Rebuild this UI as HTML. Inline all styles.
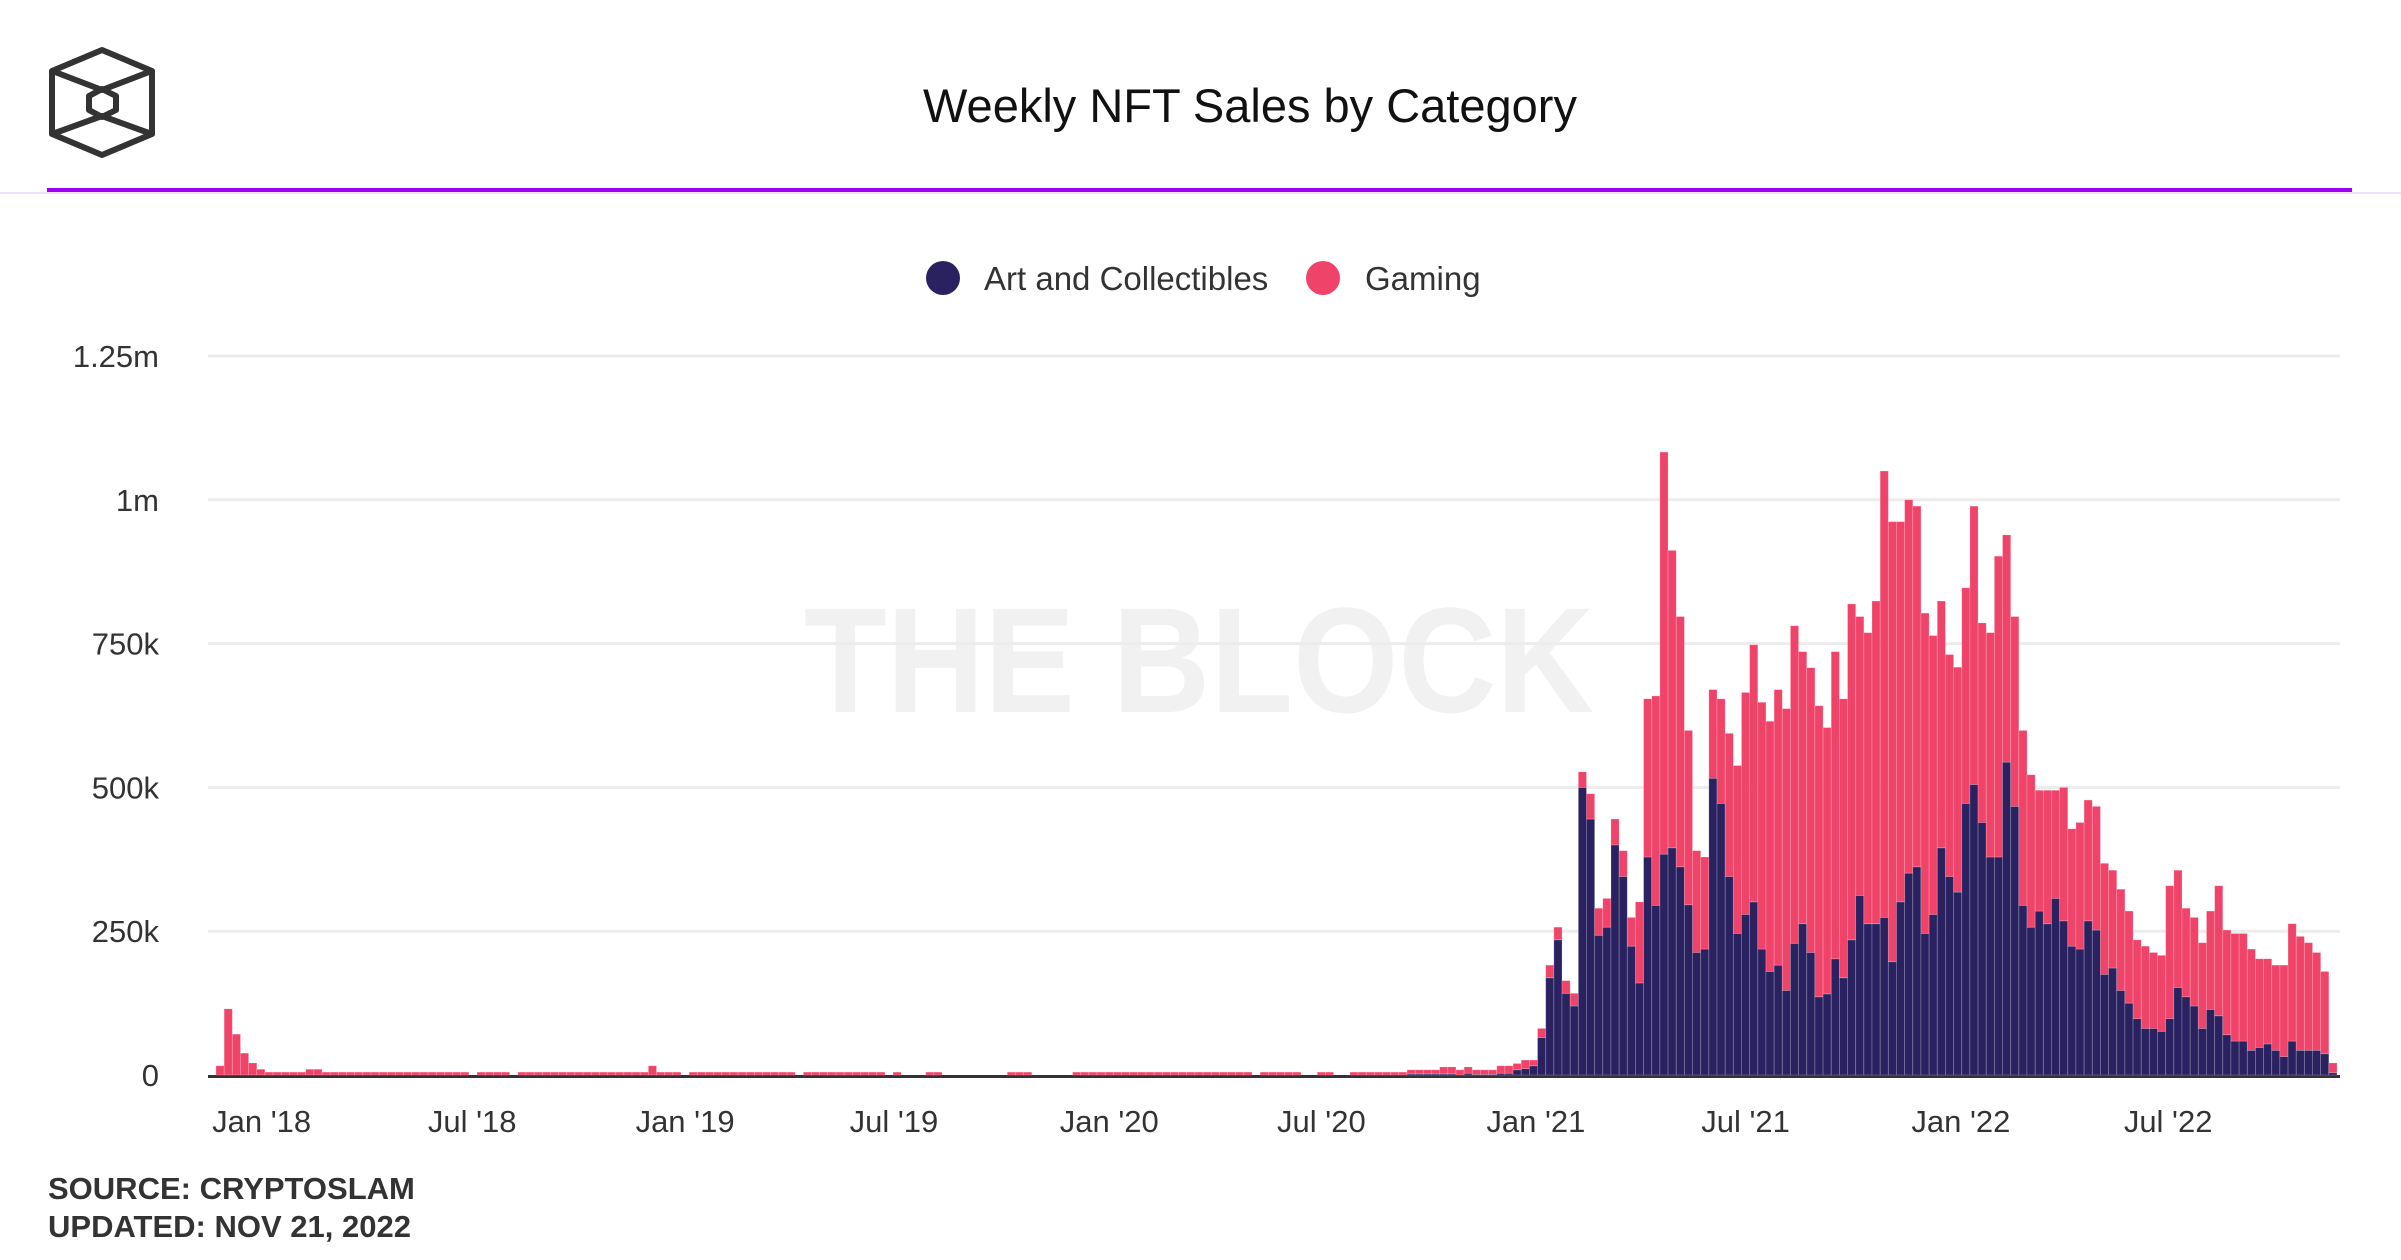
<!DOCTYPE html>
<html><head><meta charset="utf-8"><title>Weekly NFT Sales by Category</title>
<style>html,body{margin:0;padding:0;background:#fff;}svg{display:block;}</style></head>
<body>
<svg id="chart" width="2401" height="1260" viewBox="0 0 2401 1260" xmlns="http://www.w3.org/2000/svg" font-family="Liberation Sans, sans-serif">
<rect x="0" y="0" width="2401" height="1260" fill="#fff"/>
<g fill="none" stroke="#333" stroke-width="6" stroke-linejoin="round">
<polygon points="102,50 152,71 152,134 102,155 52,134 52,71"/>
<polyline points="55,72 102,90 149,72"/>
<polyline points="55,133 102,116 149,133"/>
<polygon points="102,89 116,96 116,110 102,117 89,110 89,96"/>
</g>
<text x="1250" y="122" text-anchor="middle" font-size="47" fill="#111">Weekly NFT Sales by Category</text>
<line x1="0" y1="193" x2="2401" y2="193" stroke="#f0e0f8" stroke-width="2"/>
<line x1="47" y1="190" x2="2352" y2="190" stroke="#a000f2" stroke-width="4"/>
<text x="1199" y="712" text-anchor="middle" font-size="150" font-weight="bold" fill="#f1f1f1" textLength="790" lengthAdjust="spacingAndGlyphs">THE BLOCK</text>
<g>
<circle cx="943" cy="278" r="17" fill="#2a2260"/>
<text x="984" y="290" font-size="33" fill="#333">Art and Collectibles</text>
<circle cx="1323" cy="278" r="17" fill="#f0436a"/>
<text x="1365" y="290" font-size="33" fill="#333">Gaming</text>
</g>
<g id="grid"></g>
<g id="yaxis"></g>
<line x1="208" y1="1076.5" x2="2340" y2="1076.5" stroke="#333" stroke-width="3"/>
<g id="bars"></g>
<g id="xaxis"></g>
<text x="48" y="1199" font-size="31" font-weight="bold" fill="#333">SOURCE: CRYPTOSLAM</text>
<text x="48" y="1237" font-size="31" font-weight="bold" fill="#333">UPDATED: NOV 21, 2022</text>
</svg>
<script>
const yTicks = [0, 250000, 500000, 750000, 1000000, 1250000];
const yTickLabels = ["0", "250k", "500k", "750k", "1m", "1.25m"];
const xTickLabels = ["Jan '18","Jul '18","Jan '19","Jul '19","Jan '20","Jul '20","Jan '21","Jul '21","Jan '22","Jul '22"];
const xTickWeeks = [5.6, 31.4, 57.5, 83.1, 109.5, 135.5, 161.8, 187.5, 213.9, 239.3];
// values in thousands
const art = [
0,0,0,0,0,0,0,0,0,0, 0,0,0,0,0,0,0,0,0,0,
0,0,0,0,0,0,0,0,0,0, 0,0,0,0,0,0,0,0,0,0,
0,0,0,0,0,0,0,0,0,0, 0,0,0,0,0,0,0,0,0,0,
0,0,0,0,0,0,0,0,0,0, 0,0,0,0,0,0,0,0,0,0,
0,0,0,0,0,0,0,0,0,0, 0,0,0,0,0,0,0,0,0,0,
0,0,0,0,0,0,0,0,0,0, 0,0,0,0,0,0,0,0,0,0,
0,0,0,0,0,0,0,0,0,0, 0,0,0,0,0,0,0,0,0,0,
0,0,0,0,0,0,2,2,2,2, 2,2,0,3,1,1,1,3,3,9,
11,16,65,169,235,142,120,500,445,243, 257,400,345,224,160,379,295,384,395,362,
296,213,219,516,472,345,246,279,301,219, 180,191,147,229,263,213,136,141,202,169,
235,312,263,263,274,197,301,351,362,246, 279,395,345,318,472,505,439,379,379,544,
467,295,257,285,263,307,268,224,219,268, 252,175,186,147,125,98,81,81,76,98,
152,136,120,81,114,103,70,59,59,43, 48,54,43,32,59,43,43,43,37,4
];
const gaming = [
16,115,71,38,21,10,5,5,5,5, 5,10,10,5,5,5,5,5,5,5,
5,5,5,5,5,5,5,5,5,5, 5,0,5,5,5,5,0,5,5,5,
5,5,5,5,5,5,5,5,5,5, 5,5,5,16,5,5,5,0,5,5,
5,5,5,5,5,5,5,5,5,5, 5,0,5,5,5,5,5,5,5,5,
5,5,0,5,0,0,0,5,5,0, 0,0,0,0,0,0,0,5,5,5,
0,0,0,0,0,5,5,5,5,5, 5,5,5,5,5,5,5,5,5,5,
5,5,5,5,5,5,5,0,5,5, 5,5,5,0,0,5,5,0,0,5,
5,5,5,5,5,5,7,7,7,7, 12,12,9,11,8,8,8,13,13,11,
15,10,16,22,22,22,22,27,44,47, 50,45,45,50,141,275,364,699,517,435,
303,177,160,154,182,249,292,386,447,429, 435,479,490,552,473,495,506,463,534,485,
584,485,506,561,776,765,661,649,627,557, 485,429,386,391,375,484,347,390,523,395,
330,304,265,210,232,188,232,204,220,210, 215,193,170,176,160,137,143,132,132,231,
204,154,154,149,171,226,182,187,187,176, 154,148,148,159,204,198,187,170,143,17
];
const NS = "http://www.w3.org/2000/svg";
const X0 = 216, X1 = 2337, Y0 = 1075, YTOP = 356;
const bw = (X1 - X0) / art.length;
function yScale(v) { return Y0 - v / 1250000 * (Y0 - YTOP); }
function xScale(i) { return X0 + i * bw; }
const grid = document.getElementById('grid');
const yaxis = document.getElementById('yaxis');
yTicks.forEach((t, k) => {
  const y = yScale(t);
  if (t > 0) {
    const l = document.createElementNS(NS, 'line');
    l.setAttribute('x1', 208); l.setAttribute('x2', 2340);
    l.setAttribute('y1', y); l.setAttribute('y2', y);
    l.setAttribute('stroke', '#ececec'); l.setAttribute('stroke-width', 3);
    
    
    grid.appendChild(l);
  }
  const tx = document.createElementNS(NS, 'text');
  tx.setAttribute('x', 159); tx.setAttribute('y', y + 11);
  tx.setAttribute('text-anchor', 'end'); tx.setAttribute('font-size', 31);
  tx.setAttribute('fill', '#333');
  tx.textContent = yTickLabels[k];
  
  
  yaxis.appendChild(tx);
});
const bars = document.getElementById('bars');
art.forEach((a, i) => {
  const g = gaming[i];
  const x = xScale(i);
  const av = a * 1000, gv = g * 1000;
  if (av > 0) {
    const r = document.createElementNS(NS, 'rect');
    r.setAttribute('x', x); r.setAttribute('width', bw);
    r.setAttribute('y', yScale(av)); r.setAttribute('height', Y0 - yScale(av));
    r.setAttribute('fill', '#2a2260'); r.setAttribute('stroke', 'rgba(255,255,255,0.25)'); r.setAttribute('stroke-width', 0.8);
    
    
    bars.appendChild(r);
  }
  if (gv > 0) {
    const r = document.createElementNS(NS, 'rect');
    r.setAttribute('x', x); r.setAttribute('width', bw);
    r.setAttribute('y', yScale(av + gv)); r.setAttribute('height', yScale(av) - yScale(av + gv));
    r.setAttribute('fill', '#f0436a'); r.setAttribute('stroke', 'rgba(255,255,255,0.25)'); r.setAttribute('stroke-width', 0.8);
    
    
    bars.appendChild(r);
  }
});
const xaxis = document.getElementById('xaxis');
xTickLabels.forEach((lab, k) => {
  const tx = document.createElementNS(NS, 'text');
  tx.setAttribute('x', xScale(xTickWeeks[k])); tx.setAttribute('y', 1132);
  tx.setAttribute('text-anchor', 'middle'); tx.setAttribute('font-size', 31);
  tx.setAttribute('fill', '#333');
  tx.textContent = lab;
  
  
  xaxis.appendChild(tx);
});
</script>
</body></html>
